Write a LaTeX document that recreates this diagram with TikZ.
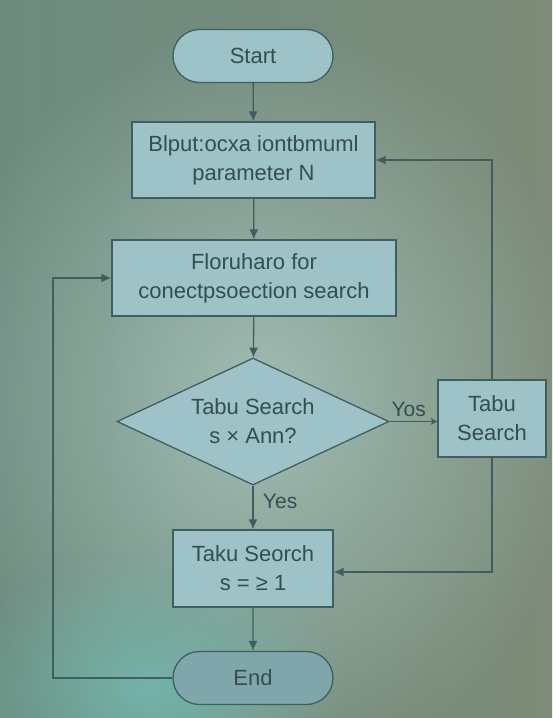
\documentclass[tikz,border=0pt]{standalone}
\usepackage{fontspec}
\setmainfont{Liberation Sans}
\usetikzlibrary{shapes.geometric,shapes.misc,arrows.meta,positioning,fadings}
\tikzfading[name=myglow, inner color=transparent!0, outer color=transparent!100]
\definecolor{bgA}{HTML}{6C8B7E}
\definecolor{bgB}{HTML}{A6C2BB}
\definecolor{bgC}{HTML}{72B7AD}
\definecolor{bgD}{HTML}{7D8B78}
\definecolor{nodefill}{HTML}{9DC3C8}
\definecolor{endfill}{HTML}{7FA7AB}
\definecolor{edgecol}{HTML}{3F5E60}
\definecolor{txtcol}{HTML}{344D52}
\tikzset{
  base/.style={draw=edgecol, line width=1.3pt, fill=nodefill, text=txtcol, font=\fontsize{22}{29}\selectfont, align=center, inner sep=0pt},
  pill/.style={base, rounded rectangle, minimum width=160pt, minimum height=53pt},
  boxnode/.style={base, rectangle, minimum height=76pt},
  decision/.style={base, diamond, aspect=2.14, minimum width=272pt, minimum height=127pt},
  conn/.style={draw=edgecol, line width=1.3pt, -{Latex[length=10pt,width=9pt]}},
  lbl/.style={text=txtcol, font=\fontsize{21}{25}\selectfont},
}
\begin{document}
\begin{tikzpicture}[x=1pt,y=-1pt]
\useasboundingbox (0,0) rectangle (552,718);
% background
\shade[left color=bgA, right color=bgD] (0,0) rectangle (552,718);
\fill[bgB, path fading=myglow, opacity=0.9] (260,400) ellipse (330 and 380);
\fill[bgC, path fading=myglow, opacity=0.9] (150,690) ellipse (200 and 140);

\node[pill] (start) at (253,56) {Start};
\node[boxnode, minimum width=243pt] (input) at (253.5,160) {Blput:ocxa iontbmuml\\parameter N};
\node[boxnode, minimum width=284pt] (flow) at (254,278) {Floruharo for\\conectpsoection search};
\node[decision] (dec) at (253,421.5) {Tabu Search\\s × Ann?};
\node[boxnode, minimum width=108pt, minimum height=77pt] (tabu) at (492,418.5) {Tabu\\Search};
\node[boxnode, minimum width=160pt, minimum height=77pt] (taku) at (253,568.5) {Taku Seorch\\s = ≥ 1};
\node[pill, fill=endfill] (end) at (253,678) {End};

\coordinate (tr1) at (492,160);
\coordinate (tr2) at (492,572);
\coordinate (bl1) at (53,678);
\coordinate (bl2) at (53,278);

\draw[conn] (start) -- (input);
\draw[conn] (input) -- (flow);
\draw[conn] (flow) -- (dec);
\draw[conn] (dec) -- node[lbl, right=6pt, pos=0.35] {Yes} (taku);
\draw[conn] (taku) -- (end);
\draw[draw=edgecol, line width=1.3pt, -{Stealth[length=7pt,width=7pt]}] (dec.east) -- node[lbl, above=1pt, pos=0.4] {Yos} (tabu.west |- dec.east);
\draw[conn] (tabu.north) -- (tr1) -- (input.east);
\draw[conn] (tabu.south) -- (tr2) -- (taku.east |- tr2);
\draw[conn] (end.west) -- (bl1) -- (bl2) -- (flow.west);
\end{tikzpicture}
\end{document}
